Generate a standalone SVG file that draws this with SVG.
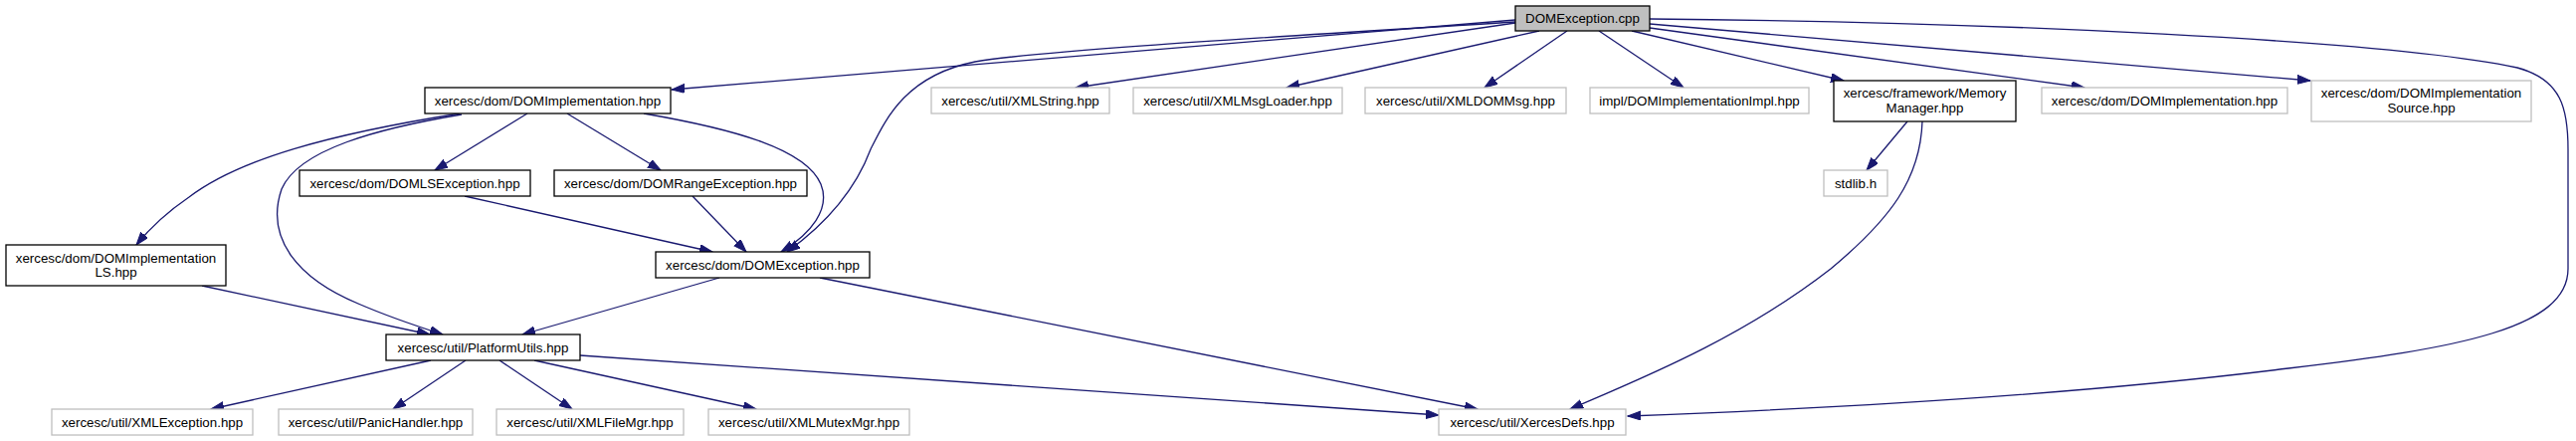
<svg xmlns="http://www.w3.org/2000/svg" width="2589" height="443" viewBox="0 0 2589 443">
<style>
  .n rect { fill: #ffffff; stroke: #000000; stroke-width: 1.3; }
  .n.u rect { stroke: #bfbfbf; }
  .n.root rect { fill: #bfbfbf; }
  .n text { font-family: "Liberation Sans", Arial, Helvetica, sans-serif; font-size: 13.33px; fill: #000000; text-anchor: middle; }
  .e path { fill: none; stroke: #191970; stroke-width: 1.3; marker-end: url(#arr); }
</style>
<defs>
  <marker id="arr" markerUnits="userSpaceOnUse" markerWidth="14" markerHeight="10" refX="13" refY="4.5" orient="auto">
    <path d="M0,0 L13,4.5 L0,9 z" fill="#191970" stroke="#191970" stroke-width="1"/>
  </marker>
</defs>
<rect x="0" y="0" width="2589" height="443" fill="#ffffff"/>
<g id="edges" class="e">
  <path d="M1523,20 L675,90"/>
  <path d="M1523,23 L1081,88"/>
  <path d="M1547,31 L1293,88"/>
  <path d="M1575,31 L1492,88"/>
  <path d="M1607,31 L1692,88"/>
  <path d="M1640,31 L1853,81"/>
  <path d="M1658,28 L2095,88"/>
  <path d="M1658,24 L2322,81"/>
  <path d="M1658,19 C2000,22 2400,40 2530,68 C2575,80 2581,110 2581,150 L2581,270 C2581,330 2470,350 2300,370 C2100,395 1850,410 1636,418"/>
  <path d="M1523,22 C1300,36 1050,50 980,62 C910,76 890,120 875,150 C860,190 830,225 791,253"/>
  <path d="M530,114 L437,171"/>
  <path d="M570,114 L664,171"/>
  <path d="M647,114 C740,130 810,150 825,185 C835,210 815,235 785,253"/>
  <path d="M462,114 C330,135 240,160 190,198 C165,215 150,230 137,246"/>
  <path d="M464,115 C380,129 300,150 283,190 C266,240 300,280 360,305 C390,318 420,328 445,336"/>
  <path d="M467,197 L716,253"/>
  <path d="M696,197 L750,253"/>
  <path d="M203,287 L432,336"/>
  <path d="M723,279 L525,336"/>
  <path d="M824,279 L1485,411"/>
  <path d="M433,362 L212,411"/>
  <path d="M468,362 L395,411"/>
  <path d="M502,362 L575,411"/>
  <path d="M537,362 L760,411"/>
  <path d="M583,357 C800,372 1200,400 1446,417"/>
  <path d="M1917,122 L1876,171"/>
  <path d="M1932,122 C1930,180 1900,220 1840,270 C1750,340 1650,380 1578,411"/>
</g>
<g id="n_root" class="n root"><rect x="1523" y="6" width="135" height="25"/><text x="1590.5" y="23">DOMException.cpp</text></g>
<g id="n_domimpl" class="n"><rect x="427" y="88" width="247" height="26"/><text x="550.5" y="105.5">xercesc/dom/DOMImplementation.hpp</text></g>
<g id="n_xmlstring" class="n u"><rect x="936" y="88" width="179" height="26"/><text x="1025.5" y="105.5">xercesc/util/XMLString.hpp</text></g>
<g id="n_xmlmsgloader" class="n u"><rect x="1139" y="88" width="210" height="26"/><text x="1244" y="105.5">xercesc/util/XMLMsgLoader.hpp</text></g>
<g id="n_xmldommsg" class="n u"><rect x="1372" y="88" width="202" height="26"/><text x="1473" y="105.5">xercesc/util/XMLDOMMsg.hpp</text></g>
<g id="n_implimpl" class="n u"><rect x="1598" y="88" width="220" height="26"/><text x="1708" y="105.5">impl/DOMImplementationImpl.hpp</text></g>
<g id="n_memmgr" class="n"><rect x="1843" y="81" width="183" height="41"/><text x="1934.5" y="97.5">xercesc/framework/Memory</text><text x="1934.5" y="112.5">Manager.hpp</text></g>
<g id="n_domimpl2" class="n u"><rect x="2052" y="88" width="247" height="26"/><text x="2175.5" y="105.5">xercesc/dom/DOMImplementation.hpp</text></g>
<g id="n_domimplsrc" class="n u"><rect x="2323" y="81" width="221" height="41"/><text x="2433.5" y="97.5">xercesc/dom/DOMImplementation</text><text x="2433.5" y="112.5">Source.hpp</text></g>
<g id="n_stdlib" class="n u"><rect x="1833" y="171" width="64" height="26"/><text x="1865" y="188.5">stdlib.h</text></g>
<g id="n_domls" class="n"><rect x="301" y="171" width="232" height="26"/><text x="417" y="188.5">xercesc/dom/DOMLSException.hpp</text></g>
<g id="n_domrange" class="n"><rect x="557" y="171" width="254" height="26"/><text x="684" y="188.5">xercesc/dom/DOMRangeException.hpp</text></g>
<g id="n_domimplls" class="n"><rect x="6" y="246" width="221" height="41"/><text x="116.5" y="263.5">xercesc/dom/DOMImplementation</text><text x="116.5" y="278">LS.hpp</text></g>
<g id="n_domexc" class="n"><rect x="659" y="253" width="215" height="26"/><text x="766.5" y="270.5">xercesc/dom/DOMException.hpp</text></g>
<g id="n_platform" class="n"><rect x="388" y="336" width="195" height="26"/><text x="485.5" y="353.5">xercesc/util/PlatformUtils.hpp</text></g>
<g id="n_xmlexc" class="n u"><rect x="52" y="411" width="202" height="26"/><text x="153" y="428.5">xercesc/util/XMLException.hpp</text></g>
<g id="n_panic" class="n u"><rect x="280" y="411" width="195" height="26"/><text x="377.5" y="428.5">xercesc/util/PanicHandler.hpp</text></g>
<g id="n_filemgr" class="n u"><rect x="499" y="411" width="188" height="26"/><text x="593" y="428.5">xercesc/util/XMLFileMgr.hpp</text></g>
<g id="n_mutex" class="n u"><rect x="712" y="411" width="202" height="26"/><text x="813" y="428.5">xercesc/util/XMLMutexMgr.hpp</text></g>
<g id="n_xercesdefs" class="n u"><rect x="1446" y="411" width="188" height="26"/><text x="1540" y="428.5">xercesc/util/XercesDefs.hpp</text></g>
</svg>
